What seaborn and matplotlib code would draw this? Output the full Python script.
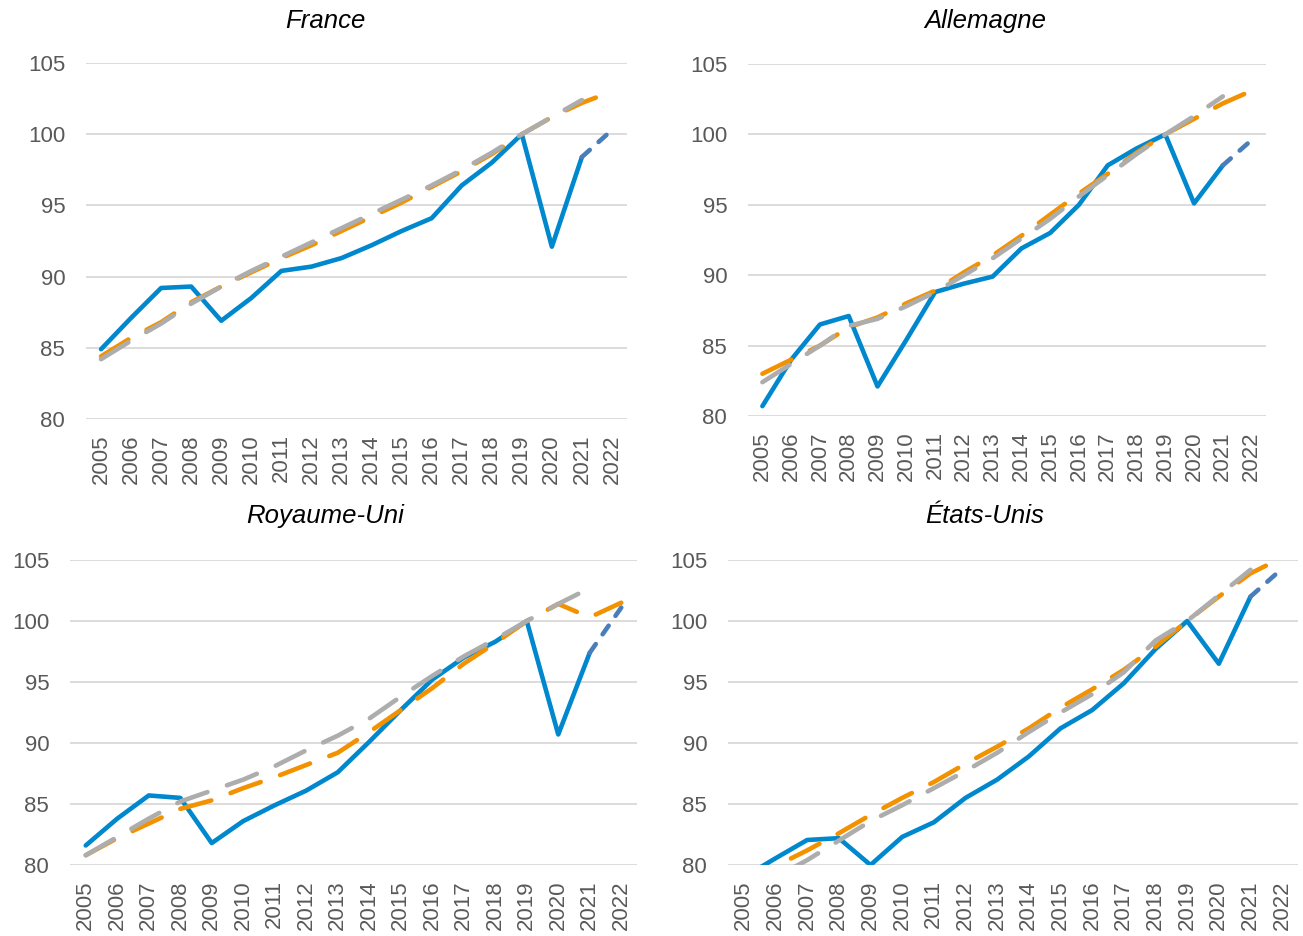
import numpy as np
import pandas as pd
import matplotlib
matplotlib.use('Agg')
import matplotlib.pyplot as plt
import seaborn as sns

# %%
annees = list(range(2005, 2023))

france_obs = [84.9, 87.1, 89.2, 89.3, 86.9, 88.5, 90.4, 90.7, 91.3, 92.2, 93.2, 94.1, 96.4, 98.0, 100.0, 92.1, 98.4]
france_prev = [98.4, 100.3]
france_tend1 = [84.4, 85.7, 86.8, 88.2, 89.3, 90.3, 91.3, 92.2, 93.2, 94.2, 95.2, 96.3, 97.4, 98.6, 100.0, 101.2, 102.2, 103.0]
france_tend2 = [84.2, 85.5, 86.7, 88.1, 89.3, 90.4, 91.4, 92.4, 93.4, 94.4, 95.4, 96.4, 97.5, 98.7, 100.0, 101.2, 102.4, np.nan]

allemagne_obs = [80.7, 84.0, 86.5, 87.1, 82.1, 85.4, 88.8, 89.4, 89.9, 91.9, 93.0, 95.0, 97.8, 99.0, 100.0, 95.1, 97.8]
allemagne_prev = [97.8, 99.6]
allemagne_tend1 = [83.0, 84.0, 85.0, 86.3, 87.0, 88.0, 88.9, 90.2, 91.4, 92.8, 94.3, 95.8, 97.2, 98.7, 100.0, 101.1, 102.2, 103.1]
allemagne_tend2 = [82.4, 83.7, 85.0, 86.4, 86.9, 87.8, 88.8, 90.0, 91.2, 92.6, 94.0, 95.6, 97.1, 98.6, 100.0, 101.3, 102.7, np.nan]

ru_obs = [81.6, 83.8, 85.7, 85.5, 81.8, 83.6, 84.9, 86.1, 87.6, 90.1, 92.7, 95.2, 97.0, 98.3, 100.0, 90.7, 97.4]
ru_prev = [97.4, 101.1]
ru_tend1 = [80.8, 82.2, 83.4, 84.6, 85.3, 86.3, 87.2, 88.2, 89.2, 90.9, 92.7, 94.5, 96.5, 98.2, 100.0, 101.4, 100.3, 101.5]
ru_tend2 = [80.8, 82.3, 83.8, 85.2, 86.1, 87.0, 88.1, 89.4, 90.6, 92.0, 93.8, 95.5, 97.1, 98.5, 100.0, 101.4, 102.7, np.nan]

eu_obs = [79.0, 80.55, 82.05, 82.2, 80.0, 82.3, 83.5, 85.5, 87.0, 88.9, 91.2, 92.7, 94.9, 97.7, 100.0, 96.5, 102.0]
eu_prev = [102.0, 104.3]
eu_tend1 = [78.6, 79.9, 81.2, 82.6, 84.1, 85.5, 86.8, 88.3, 89.7, 91.2, 92.9, 94.4, 96.0, 97.9, 100.0, 102.0, 103.9, 105.2]
eu_tend2 = [77.6, 79.0, 80.4, 82.0, 83.6, 84.9, 86.3, 87.7, 89.2, 90.9, 92.5, 94.0, 95.8, 98.4, 100.0, 102.1, 104.2, np.nan]

titres = ['France', 'Allemagne', 'Royaume-Uni', 'États-Unis']
# %%

sns.set_style('white')
plt.rcParams['font.family'] = ['Liberation Sans', 'DejaVu Sans']

W, H = 1303, 936
fig = plt.figure(figsize=(W / 100, H / 100), dpi=100)

# zones de tracé en pixels : gauche, droite, haut, bas
zones = [(86, 627, 63, 419), (748, 1266, 64, 416), (70, 637, 560, 865), (728, 1298, 560, 865)]
titres_xy = [(325, 21), (985, 21), (325, 516), (985, 516)]
donnees = [
    (france_obs, france_prev, france_tend1, france_tend2),
    (allemagne_obs, allemagne_prev, allemagne_tend1, allemagne_tend2),
    (ru_obs, ru_prev, ru_tend1, ru_tend2),
    (eu_obs, eu_prev, eu_tend1, eu_tend2),
]

bleu = '#0088CE'
bleu_prev = '#4A7EBB'
orange = '#F39200'
gris = '#ADADAD'

for (g, d, h, b), (obs, prev, t1, t2), titre, (tx, ty) in zip(zones, donnees, titres, titres_xy):
    ax = fig.add_axes([g / W, 1 - b / H, (d - g) / W, (b - h) / H])

    df_obs = pd.DataFrame({'annee': annees[:17], 'valeur': obs})
    df_prev = pd.DataFrame({'annee': annees[16:], 'valeur': prev})
    df_t1 = pd.DataFrame({'annee': annees, 'valeur': t1}).dropna()
    df_t2 = pd.DataFrame({'annee': annees, 'valeur': t2}).dropna()

    sns.lineplot(data=df_obs, x='annee', y='valeur', ax=ax, color=bleu, linewidth=3.3,
                 solid_capstyle='round', solid_joinstyle='round')
    sns.lineplot(data=df_prev, x='annee', y='valeur', ax=ax, color=bleu_prev, linewidth=3.3,
                 linestyle=(0, (2.3, 2.6)), dash_capstyle='round')
    sns.lineplot(data=df_t1, x='annee', y='valeur', ax=ax, color=orange, linewidth=3.3,
                 linestyle=(0, (7, 4.5)), dash_capstyle='round')
    sns.lineplot(data=df_t2, x='annee', y='valeur', ax=ax, color=gris, linewidth=3.3,
                 linestyle=(0, (7, 4.5)), dash_capstyle='round')

    ax.set_xlim(2004.5, 2022.5)
    ax.set_ylim(80, 105)
    ax.set_yticks([80, 85, 90, 95, 100, 105])
    ax.set_xticks(annees)
    ax.set_xticklabels([str(a) for a in annees], rotation=90)
    ax.set_xlabel('')
    ax.set_ylabel('')
    ax.yaxis.grid(True, color='#D9D9D9', linewidth=1.3)
    ax.xaxis.grid(False)
    ax.set_axisbelow(True)
    for s in ax.spines.values():
        s.set_visible(False)
    ax.tick_params(axis='y', length=0, pad=15, labelsize=16, labelcolor='#595959')
    ax.tick_params(axis='x', length=0, pad=11, labelsize=16, labelcolor='#595959')

    fig.text(tx / W, 1 - ty / H, titre, ha='center', va='center', fontsize=18.5,
             style='italic', color='black')

plt.savefig('out.png', dpi=100)
